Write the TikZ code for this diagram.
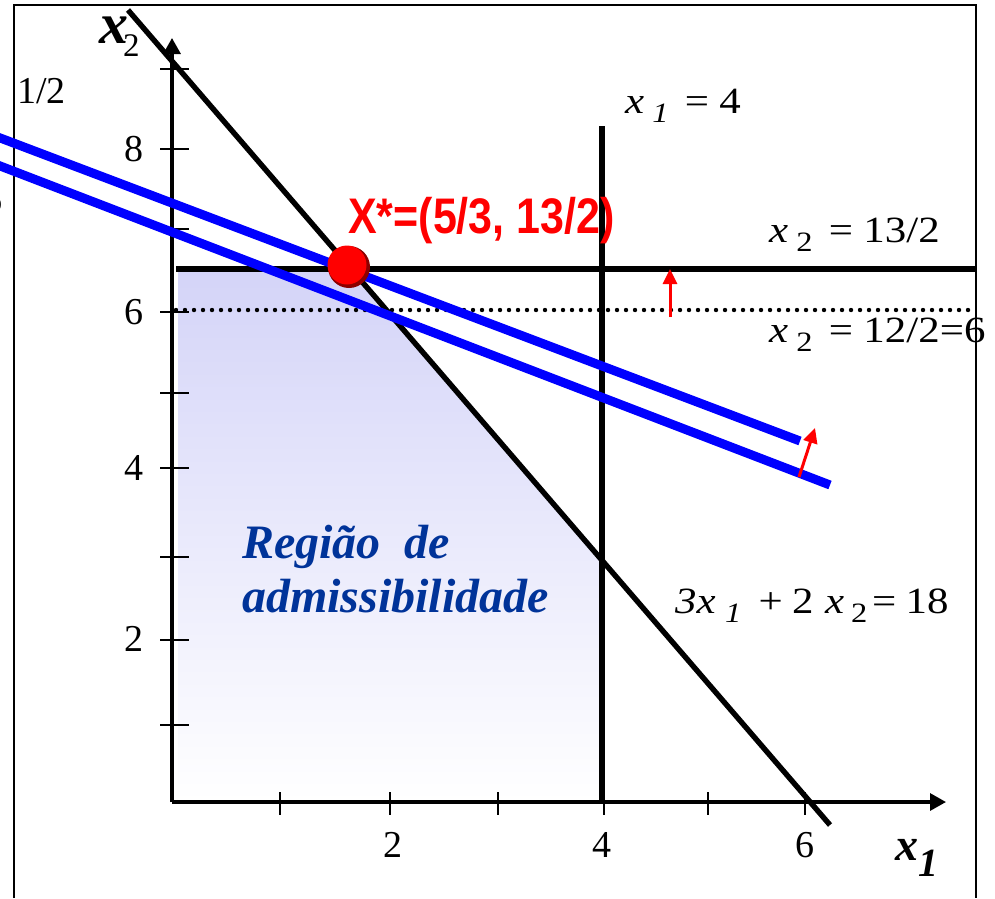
\documentclass[tikz,border=0pt]{standalone}
\usepackage{fontspec}
\setmainfont{Liberation Serif}
\newfontfamily\lsans{Liberation Sans}
\usetikzlibrary{arrows.meta}
\definecolor{regblue}{RGB}{0,51,153}
\definecolor{lav}{RGB}{212,212,248}
\definecolor{dred}{RGB}{140,0,0}
\newcommand\sbx[2][28]{\raisebox{-9pt}{\fontsize{#1}{#1}\selectfont #2}}
\newcommand\eqstretch[1]{\scalebox{1.16}[1]{#1}}
\begin{document}
\begin{tikzpicture}[x=1pt,y=-1pt,
  frame/.style={line width=2.2pt},
  axis/.style={line width=3.2pt, -{Triangle[length=16pt,width=17pt]}},
  tick/.style={line width=2pt},
  cline/.style={line width=5.4pt},
  objline/.style={line width=9pt, blue},
  redarrow/.style={red, line width=3pt, -{Triangle[length=15pt,width=14pt]}},
  ticklbl/.style={inner sep=0, font=\fontsize{38}{38}\selectfont},
  eqlbl/.style={inner sep=0, anchor=base west, font=\fontsize{37}{37}\selectfont},
  reglbl/.style={inner sep=0, anchor=base west, text=regblue, font=\bfseries\itshape\fontsize{48}{48}\selectfont},
]
\useasboundingbox (0,0) rectangle (995,898);
% feasible region
\shade[top color=lav, bottom color=white] (178,269) -- (350,269) -- (602,560) -- (602,802) -- (178,802) -- cycle;
% frame
\draw[frame] (14,898) -- (14,5) -- (976,5) -- (976,898);
% ticks
\foreach \ty in {69,149,229,312,393,468,557,640,725} \draw[tick] (160,\ty) -- (189,\ty);
\foreach \tx in {280,390,498,604,708,805} \draw[tick] (\tx,792) -- (\tx,815);
% constraint lines
\draw[cline] (176,269) -- (976,269);
\draw[line width=4.4pt, dash pattern=on 0pt off 9pt, line cap=round] (176,310) -- (976,310);
\draw[cline] (602,126) -- (602,802);
\draw[cline] (128,10) -- (830,825);
% axes
\coordinate (O) at (172,802);
\coordinate (ytip) at (172,38);
\coordinate (xtip) at (946,802);
\draw[axis] (O) -- (ytip);
\draw[axis] (O) -- (xtip);
% objective lines
\draw[objline] (-5,136) -- (800,441);
\draw[objline] (-5,164) -- (830,485);
% red arrows
\coordinate (a1s) at (670,317); \coordinate (a1e) at (670,269);
\coordinate (a2s) at (799,477); \coordinate (a2e) at (815,428);
\draw[redarrow] (a1s) -- (a1e);
\draw[redarrow] (a2s) -- (a2e);
% optimum
\fill[dred] (349,267) circle (21);
\fill[red] (347,265) circle (19.5);
\node[inner sep=0, anchor=base west, text=red, font=\lsans\bfseries\fontsize{50}{50}\selectfont] (xs) at (348,233) {\scalebox{0.86}[1]{X*=(5/3, 13/2)}};
% tick labels
\node[ticklbl, anchor=base east] (y8) at (144,161) {8};
\node[ticklbl, anchor=base east] (y6) at (144,324) {6};
\node[ticklbl, anchor=base east] (y4) at (144,480) {4};
\node[ticklbl, anchor=base east] (y2) at (144,651) {2};
\node[ticklbl, anchor=base] (x2l) at (393,857) {2};
\node[ticklbl, anchor=base] (x4l) at (602,857) {4};
\node[ticklbl, anchor=base] (x6l) at (805,857) {6};
\node[ticklbl, anchor=base west] (half) at (17,103) {1/2};
\node[ticklbl, anchor=base east] (six) at (3,212) {6};
% axis labels
\node[inner sep=0, anchor=base west, font=\bfseries\itshape\fontsize{58}{58}\selectfont] (lx2) at (99,43) {x\kern-5pt\raisebox{-13pt}{\fontsize{33}{33}\selectfont\mdseries\upshape 2}};
\node[inner sep=0, anchor=base west, font=\bfseries\itshape\fontsize{46}{46}\selectfont] (lx1) at (895,860) {x\kern0pt\raisebox{-16pt}{\fontsize{40}{40}\selectfont 1}};
% equation labels
\node[eqlbl] (e1) at (625,113) {\eqstretch{{\itshape x}\kern7pt\sbx{\itshape 1}\kern14pt=\kern9pt4}};
\node[eqlbl] (e2) at (769,242) {\eqstretch{{\itshape x}\kern7pt\sbx{2}\kern14pt=\kern9pt13/2}};
\node[eqlbl] (e3) at (769,342) {\eqstretch{{\itshape x}\kern7pt\sbx{2}\kern14pt=\kern9pt12/2=6}};
\node[eqlbl] (e4) at (675,613) {\eqstretch{{\itshape 3x}\kern8pt\sbx{\itshape 1}\kern15pt+\kern8pt2\kern10pt{\itshape x}\kern6pt\sbx{2}\kern4pt=\kern8pt18}};
% region label
\node[reglbl] (r1) at (242,558) {Região\ \ de};
\node[reglbl] (r2) at (242,612) {admissibilidade};
\end{tikzpicture}
\end{document}
